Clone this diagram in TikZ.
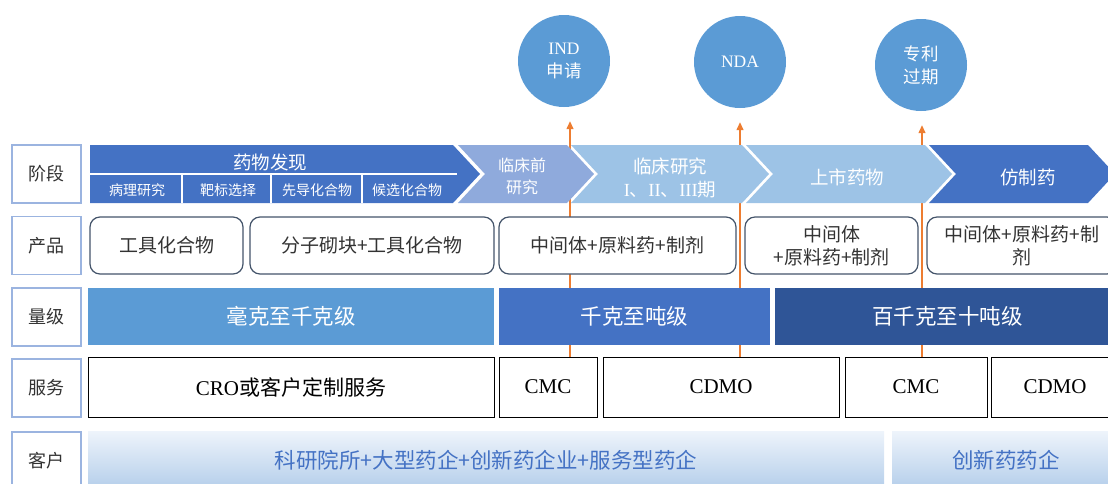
\documentclass[tikz,border=0pt]{standalone}
\usepackage{fontspec}
\setmainfont{Noto Sans CJK SC}
\newfontfamily\tnr{Liberation Serif}
\usetikzlibrary{arrows.meta}
\definecolor{chevdark}{HTML}{4472C4}
\definecolor{chevmid}{HTML}{8FAADC}
\definecolor{chevlight}{HTML}{9DC3E6}
\definecolor{ballblue}{HTML}{5B9BD5}
\definecolor{navy}{HTML}{2F5597}
\definecolor{tickorange}{HTML}{ED7D31}
\definecolor{framegray}{HTML}{44546A}
\definecolor{labelframe}{HTML}{9BB4E0}
\definecolor{inkgray}{HTML}{333333}
\definecolor{shadetop}{HTML}{EEF4FB}
\definecolor{shadebot}{HTML}{B3CDEA}

\begin{document}
\begin{tikzpicture}[x=1pt, y=-1pt,
    rowlabel/.style={draw=labelframe, line width=1.2pt, fill=white, text=inkgray,
      minimum width=69pt, minimum height=58pt, inner sep=0pt, font=\fontsize{18}{20}\selectfont},
    prodbox/.style={draw=framegray, line width=1.2pt, rounded corners=10pt, fill=white, text=inkgray,
      minimum height=57pt, inner sep=0pt, align=center, font=\fontsize{19}{23}\selectfont},
    scalebar/.style={minimum height=57pt, inner sep=0pt, text=white, font=\fontsize{21.5}{24}\selectfont},
    servbox/.style={draw=black, line width=1pt, fill=white, minimum height=60pt, inner sep=0pt,
      font=\fontsize{21}{24}\selectfont},
    clientbar/.style={top color=shadetop, bottom color=shadebot, minimum height=59pt, inner sep=0pt,
      text=chevdark, font=\fontsize{21.5}{24}\selectfont},
    milestone/.style={circle, fill=ballblue, minimum size=92pt, inner sep=0pt, text=white,
      align=center, font=\fontsize{17.5}{23}\selectfont},
    milestonearrow/.style={draw=tickorange, line width=1.3pt, -{Triangle[length=8pt,width=7pt]}, shorten >=14pt},
    chevtext/.style={text=white, align=center, font=\fontsize{18.5}{23}\selectfont},
    subtext/.style={text=white, font=\fontsize{14}{16}\selectfont}]
    \useasboundingbox (0,0) rectangle (1108,483);
    \clip (0,0) rectangle (1108,483);

    % Milestones
    \node[milestone] (ind) at (564,61) {{\tnr IND}\\申请};
    \node[milestone] (nda) at (740,62) {\tnr NDA};
    \node[milestone] (pat) at (921,65) {专利\\过期};

    % Milestone arrows (behind the rows)
    \coordinate (t1) at (570,357);
    \coordinate (t2) at (740,357);
    \coordinate (t3) at (922,357);
    \draw[milestonearrow] (t1) -- (t1 |- ind.south);
    \draw[milestonearrow] (t2) -- (t2 |- nda.south);
    \draw[milestonearrow] (t3) -- (t3 |- pat.south);

    % Row labels
    \node[rowlabel] (stage) at (46.5,174) {阶段};
    \node[rowlabel] (product) at (46.5,245.5) {产品};
    \node[rowlabel] (scale) at (46.5,317) {量级};
    \node[rowlabel] (service) at (46.5,388) {服务};
    \node[rowlabel] (client) at (46.5,461) {客户};

    % Stage chevrons
    \fill[chevdark] (90,145) -- (453,145) -- (480,174) -- (453,203) -- (90,203) -- cycle;
    \fill[chevmid] (458,145) -- (567,145) -- (594,174) -- (567,203) -- (458,203) -- (485,174) -- cycle;
    \fill[chevlight] (571,145) -- (742,145) -- (769,174) -- (742,203) -- (571,203) -- (598,174) -- cycle;
    \fill[chevlight] (746,145) -- (925,145) -- (952,174) -- (925,203) -- (746,203) -- (773,174) -- cycle;
    \fill[chevdark] (929,145) -- (1088,145) -- (1115,174) -- (1088,203) -- (929,203) -- (956,174) -- cycle;
    \draw[white, line width=1.6pt] (90,174) -- (457,174);
    \foreach \xs in {182,271,362}
      \draw[white, line width=1.6pt] (\xs,174) -- (\xs,203);

    \node[chevtext] (discovery) at (270,162) {药物发现};
    \node[subtext] (pathology) at (137,190) {病理研究};
    \node[subtext] (target) at (228,190) {靶标选择};
    \node[subtext] (lead) at (317,190) {先导化合物};
    \node[subtext] (candidate) at (407,190) {候选化合物};
    \node[chevtext, font=\fontsize{16}{22}\selectfont] (preclin) at (522,176) {临床前\\研究};
    \node[chevtext] (clinical) at (670,178) {临床研究\\{\tnr I}、{\tnr II}、{\tnr III}期};
    \node[chevtext] (market) at (847,177) {上市药物};
    \node[chevtext] (generic) at (1028,177) {仿制药};

    % Products
    \node[prodbox, minimum width=153pt] (p1) at (166.5,245.5) {工具化合物};
    \node[prodbox, minimum width=244pt] (p2) at (372,245.5) {分子砌块+工具化合物};
    \node[prodbox, minimum width=237pt] (p3) at (617.5,245.5) {中间体+原料药+制剂};
    \node[prodbox, minimum width=173pt] (p4) at (831.5,245.5) {中间体\\+原料药+制剂};
    \node[prodbox, minimum width=190pt] (p5) at (1022,245.5) {中间体+原料药+制\\剂};

    % Scale
    \node[scalebar, fill=ballblue, minimum width=406pt] (m1) at (291,316.5) {毫克至千克级};
    \node[scalebar, fill=chevdark, minimum width=271pt] (m2) at (634.5,316.5) {千克至吨级};
    \node[scalebar, fill=navy, minimum width=345pt] (m3) at (947.5,316.5) {百千克至十吨级};

    % Services
    \node[servbox, minimum width=406pt] (s1) at (291,387) {{\tnr CRO}或客户定制服务};
    \node[servbox, minimum width=98pt] (s2) at (548,387) {\tnr CMC};
    \node[servbox, minimum width=236pt] (s3) at (721,387) {\tnr CDMO};
    \node[servbox, minimum width=142pt] (s4) at (916,387) {\tnr CMC};
    \node[servbox, minimum width=128pt] (s5) at (1055,387) {\tnr CDMO};

    % Clients
    \node[clientbar, minimum width=796pt] (c1) at (486,460.5) {科研院所+大型药企+创新药企业+服务型药企};
    \node[clientbar, minimum width=228pt] (c2) at (1006,460.5) {创新药药企};
\end{tikzpicture}
\end{document}
